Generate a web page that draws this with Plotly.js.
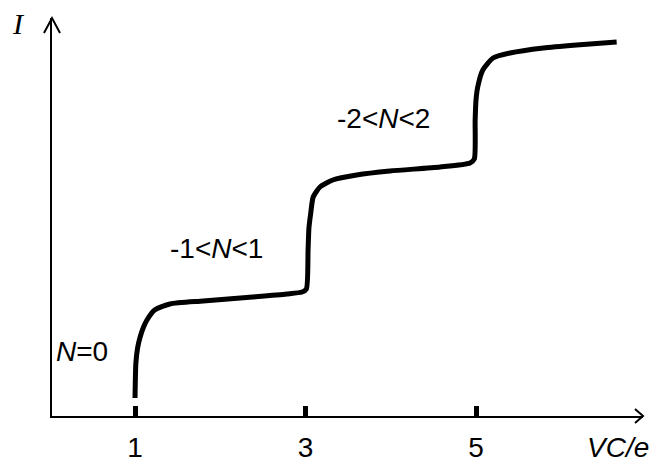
<!DOCTYPE html>
<html>
<head>
<meta charset="utf-8">
<script src="https://cdn.plot.ly/plotly-3.0.1.min.js"></script>
<style>
  html, body { margin: 0; padding: 0; background: #fff; }
  #chart { width: 653px; height: 463px; }
</style>
</head>
<body>
<div id="chart"></div>
<script>
// Coulomb staircase: current I versus gate charge VC/e
const vce = [1.00, 1.01, 1.03, 1.06, 1.10, 1.14, 1.23, 1.41, 1.80, 2.38, 2.78, 2.96, 3.01,
             3.03, 3.04, 3.06, 3.09, 3.17, 3.32, 3.60, 3.99, 4.58, 4.93, 4.98,
             4.99, 5.00, 5.02, 5.08, 5.20, 5.40, 5.79, 6.18, 6.65];
const current = [0.18, 0.53, 0.68, 0.79, 0.89, 0.96, 1.06, 1.12, 1.15, 1.19, 1.22, 1.24, 1.27,
                 1.66, 1.88, 2.02, 2.19, 2.29, 2.36, 2.41, 2.45, 2.49, 2.53, 2.57,
                 2.96, 3.16, 3.29, 3.46, 3.58, 3.63, 3.68, 3.71, 3.74];

const tickVals = [1, 3, 5];
const tickText = ['1', '3', '5'];

// Region labels (charge state ranges) and their anchor points
const regionText = ['<i>N</i>=0', '-1&lt;<i>N</i>&lt;1', '-2&lt;<i>N</i>&lt;2'];
const regionX = [0.38, 1.95, 3.92];
const regionY = [0.65, 1.68, 2.98];

const xRange = [0.026, 6.959];
const yRange = [0, 3.98];

const font = 'Liberation Sans, Arial, sans-serif';

const trace = {
  x: vce,
  y: current,
  mode: 'lines',
  line: { color: '#000', width: 5, shape: 'spline', smoothing: 0.6 },
  hoverinfo: 'skip'
};

const annotations = regionText.map((t, i) => ({
  x: regionX[i], y: regionY[i], xref: 'x', yref: 'y',
  text: t, showarrow: false, xanchor: 'center', yanchor: 'middle',
  font: { family: font, size: 28, color: '#000' }
}));

annotations.push({
  x: 1, y: 0, xref: 'paper', yref: 'paper', xshift: 8, yshift: -31,
  text: '<i>VC/e</i>', showarrow: false, xanchor: 'right', yanchor: 'middle',
  font: { family: font, size: 28, color: '#000' }
});
annotations.push({
  x: 0, y: 1, xref: 'paper', yref: 'paper', xshift: -34, yshift: -5,
  text: '<i>I</i>', showarrow: false, xanchor: 'center', yanchor: 'middle',
  font: { family: 'Liberation Serif, Times New Roman, serif', size: 30, color: '#000' }
});

// open arrowheads at the ends of both axes
const shapes = [
  {
    type: 'path', xref: 'paper', yref: 'paper',
    xsizemode: 'pixel', ysizemode: 'pixel', xanchor: 1, yanchor: 0,
    path: 'M -8 7 L 0 0 L -8 -7',
    line: { color: '#000', width: 2 }
  },
  {
    type: 'path', xref: 'paper', yref: 'paper',
    xsizemode: 'pixel', ysizemode: 'pixel', xanchor: 0, yanchor: 1,
    path: 'M -8 -15 L 0 0 L 8 -15',
    line: { color: '#000', width: 2 }
  }
];

const layout = {
  width: 653, height: 463,
  margin: { l: 52, r: 10, t: 18, b: 47 },
  paper_bgcolor: '#fff', plot_bgcolor: 'rgba(0,0,0,0)',
  showlegend: false,
  xaxis: {
    range: xRange, showgrid: false, zeroline: false,
    showline: true, linecolor: '#000', linewidth: 2,
    tickvals: tickVals, ticktext: tickText,
    ticks: 'inside', ticklen: 10, tickwidth: 5, tickcolor: '#000',
    ticklabelstandoff: 5,
    tickfont: { family: font, size: 28, color: '#000' }
  },
  yaxis: {
    range: yRange, showgrid: false, zeroline: false,
    showline: true, linecolor: '#000', linewidth: 2,
    showticklabels: false, ticks: ''
  },
  annotations: annotations,
  shapes: shapes
};

Plotly.newPlot('chart', [trace], layout, { displayModeBar: false, staticPlot: true });
</script>
</body>
</html>
